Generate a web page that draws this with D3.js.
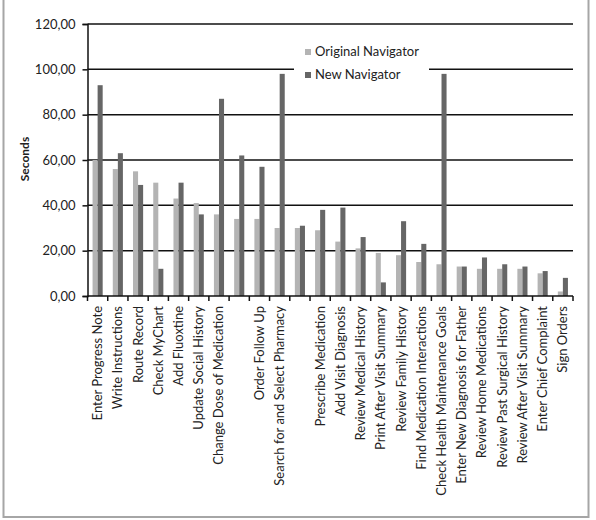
<!DOCTYPE html>
<html>
<head>
<meta charset="utf-8">
<script src="https://cdn.jsdelivr.net/npm/d3@7"></script>
<style>
  body { margin: 0; background: #fff; }
  text { font-family: Lato, "Open Sans", sans-serif; fill: #222; }
</style>
</head>
<body>
<div id="chart"></div>
<script>
const width = 596,
    height = 520;

// task names (two bars have no label in the original)
const tasks = [
    "Enter Progress Note", "Write Instructions", "Route Record", "Check MyChart",
    "Add Fluoxtine", "Update Social History", "Change Dose of Medication", "",
    "Order Follow Up", "Search for and Select Pharmacy", "", "Prescribe Medication",
    "Add Visit Diagnosis", "Review Medical History", "Print After Visit Summary",
    "Review Family History", "Find Medication Interactions", "Check Health Maintenance Goals",
    "Enter New Diagnosis for Father", "Review Home Medications", "Review Past Surgical History",
    "Review After Visit Summary", "Enter Chief Complaint", "Sign Orders"
];
const originalNav = [60, 56, 55, 50, 43, 41, 36, 34, 34, 30, 30, 29, 24, 21, 19, 18, 15, 14, 13, 12, 12, 12, 10, 2];
const newNav = [93, 63, 49, 12, 50, 36, 87, 62, 57, 98, 31, 38, 39, 26, 6, 33, 23, 98, 13, 17, 14, 13, 11, 8];
const yTicks = [0, 20, 40, 60, 80, 100, 120];
const seriesNames = ["Original Navigator", "New Navigator"];
const seriesColors = ["#b4b4b4", "#666666"];

const plot = { left: 87.5, right: 573, top: 24, bottom: 296 };

const svg = d3.select('#chart').append('svg')
    .attr('width', width)
    .attr('height', height);

// outer chart border
svg.append('rect')
    .attr('x', 3.5).attr('y', -2)
    .attr('width', 585).attr('height', 519)
    .attr('fill', '#fff')
    .attr('stroke', '#a6a6a6')
    .attr('stroke-width', 2);

const x = d3.scaleBand()
    .domain(d3.range(tasks.length))
    .range([plot.left, plot.right]);

const y = d3.scaleLinear()
    .domain([0, 120])
    .range([plot.bottom, plot.top]);

const inner = d3.scaleBand()
    .domain([0, 1])
    .range([0, x.bandwidth()])
    .paddingOuter(1)
    .paddingInner(0);

// gridlines
svg.append('g')
    .selectAll('line')
    .data(yTicks.filter(d => d > 0))
    .enter()
    .append('line')
    .attr('x1', plot.left)
    .attr('x2', plot.right)
    .attr('y1', d => y(d))
    .attr('y2', d => y(d))
    .attr('stroke', '#111')
    .attr('stroke-width', 1.5);

// bars
const series = [originalNav, newNav];
series.forEach((values, s) => {
    svg.append('g')
        .selectAll('rect')
        .data(values)
        .enter()
        .append('rect')
        .attr('x', (d, i) => x(i) + inner(s))
        .attr('width', inner.bandwidth())
        .attr('y', d => y(d))
        .attr('height', d => y(0) - y(d))
        .attr('fill', seriesColors[s]);
});

// y axis
const yAxis = svg.append('g')
    .attr('transform', `translate(${plot.left},0)`)
    .call(d3.axisLeft(y).tickValues(yTicks).tickSize(5).tickPadding(7)
        .tickFormat(d => d3.format('.2f')(d).replace('.', ',')));
yAxis.select('.domain').attr('stroke', '#111').attr('stroke-width', 1.5);
yAxis.selectAll('.tick line').attr('stroke', '#111').attr('stroke-width', 1.5);
yAxis.selectAll('text').attr('font-size', 13).attr('fill', '#222');

// x axis: baseline with ticks between categories
svg.append('line')
    .attr('x1', plot.left).attr('x2', plot.right)
    .attr('y1', y(0)).attr('y2', y(0))
    .attr('stroke', '#111').attr('stroke-width', 1.5);

svg.append('g')
    .selectAll('line')
    .data(d3.range(tasks.length + 1))
    .enter()
    .append('line')
    .attr('x1', i => i < tasks.length ? x(i) : plot.right)
    .attr('x2', i => i < tasks.length ? x(i) : plot.right)
    .attr('y1', y(0))
    .attr('y2', y(0) + 5)
    .attr('stroke', '#111')
    .attr('stroke-width', 1.5);

svg.append('g')
    .selectAll('text')
    .data(tasks)
    .enter()
    .append('text')
    .attr('transform', (d, i) => `translate(${x(i) + x.bandwidth() / 2 + 4.5},306) rotate(-90)`)
    .attr('text-anchor', 'end')
    .attr('font-size', 13)
    .text(d => d);

// y title
svg.append('text')
    .attr('transform', 'translate(29,159) rotate(-90)')
    .attr('text-anchor', 'middle')
    .attr('font-size', 12)
    .attr('font-weight', 'bold')
    .text('Seconds');

// legend
const legend = svg.append('g');
legend.append('rect')
    .attr('x', 294).attr('y', 38)
    .attr('width', 135).attr('height', 48)
    .attr('fill', '#fff');

const items = legend.selectAll('g')
    .data(seriesNames)
    .enter()
    .append('g')
    .attr('transform', (d, i) => `translate(305,${49 + i * 23})`);
items.append('rect')
    .attr('width', 6).attr('height', 6)
    .attr('fill', (d, i) => seriesColors[i]);
items.append('text')
    .attr('x', 10)
    .attr('y', 7)
    .attr('font-size', 13)
    .text(d => d);
</script>
</body>
</html>
